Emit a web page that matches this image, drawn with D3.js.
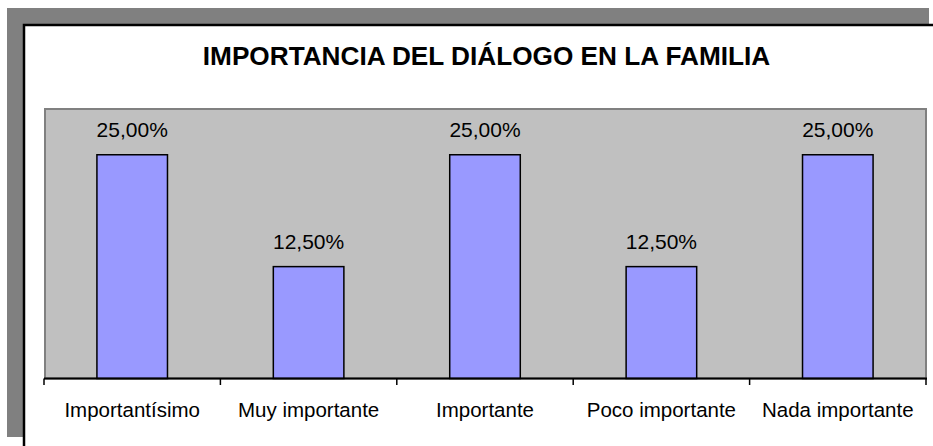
<!DOCTYPE html>
<html>
<head>
<meta charset="utf-8">
<script src="https://cdn.jsdelivr.net/npm/d3@7"></script>
<style>
  html, body { margin: 0; padding: 0; background: #ffffff; }
  svg { display: block; font-family: Arial, "Liberation Sans", sans-serif; }
</style>
</head>
<body>
<svg id="chart" width="933" height="446"></svg>
<script>
const title = "IMPORTANCIA DEL DIÁLOGO EN LA FAMILIA";
const categories = ["Importantísimo", "Muy importante", "Importante", "Poco importante", "Nada importante"];
const values = [25, 12.5, 25, 12.5, 25];
const valueLabels = ["25,00%", "12,50%", "25,00%", "12,50%", "25,00%"];
const yMax = 30;

(function () {
const svg = d3.select("#chart");

// shadow + chart frame
svg.append("rect").attr("x", 7).attr("y", 8).attr("width", 922).attr("height", 429).attr("fill", "#808080");
svg.append("rect").attr("x", 24).attr("y", 25).attr("width", 940).attr("height", 460)
  .attr("fill", "#ffffff").attr("stroke", "#000000").attr("stroke-width", 2.5);

// title
svg.append("text").attr("x", 486.5).attr("y", 65).attr("text-anchor", "middle")
  .attr("font-size", 26.2).attr("font-weight", "bold").attr("fill", "#000").text(title);

const pLeft = 44, pRight = 926, pTop = 110, pBottom = 378.5;

const x = d3.scaleBand().domain(categories).range([pLeft, pRight]).paddingInner(0.6).paddingOuter(0.3);
const xb = d3.scaleBand().domain(categories).range([pLeft, pRight]);
const y = d3.scaleLinear().domain([0, yMax]).range([pBottom, pTop]);

// plot area
svg.append("rect").attr("x", 45).attr("y", 109).attr("width", 881).attr("height", pBottom - 109)
  .attr("fill", "#C0C0C0").attr("stroke", "#808080").attr("stroke-width", 2);

// bars
svg.append("g").selectAll("rect").data(values).join("rect")
  .attr("x", (d, i) => x(categories[i]))
  .attr("y", d => y(d))
  .attr("width", x.bandwidth())
  .attr("height", d => y(0) - y(d))
  .attr("fill", "#9999FF").attr("stroke", "#000").attr("stroke-width", 1.5);

// value labels
svg.append("g").selectAll("text").data(values).join("text")
  .attr("x", (d, i) => xb(categories[i]) + xb.bandwidth() / 2)
  .attr("y", d => y(d) - 18)
  .attr("text-anchor", "middle").attr("font-size", 21).attr("fill", "#000")
  .text((d, i) => valueLabels[i]);

// x axis line and ticks at category boundaries
const boundaries = categories.map(c => xb(c)).concat([pRight]);
svg.append("line").attr("x1", pLeft).attr("x2", pRight + 1).attr("y1", pBottom).attr("y2", pBottom)
  .attr("stroke", "#000").attr("stroke-width", 2);
svg.append("g").selectAll("line").data(boundaries).join("line")
  .attr("x1", d => d).attr("x2", d => d).attr("y1", pBottom).attr("y2", pBottom + 6.5)
  .attr("stroke", "#000").attr("stroke-width", 1.5);

// category labels
svg.append("g").selectAll("text").data(categories).join("text")
  .attr("x", c => xb(c) + xb.bandwidth() / 2)
  .attr("y", 416.5)
  .attr("text-anchor", "middle").attr("font-size", 20.5).attr("fill", "#000")
  .text(c => c);
})();
</script>
</body>
</html>
